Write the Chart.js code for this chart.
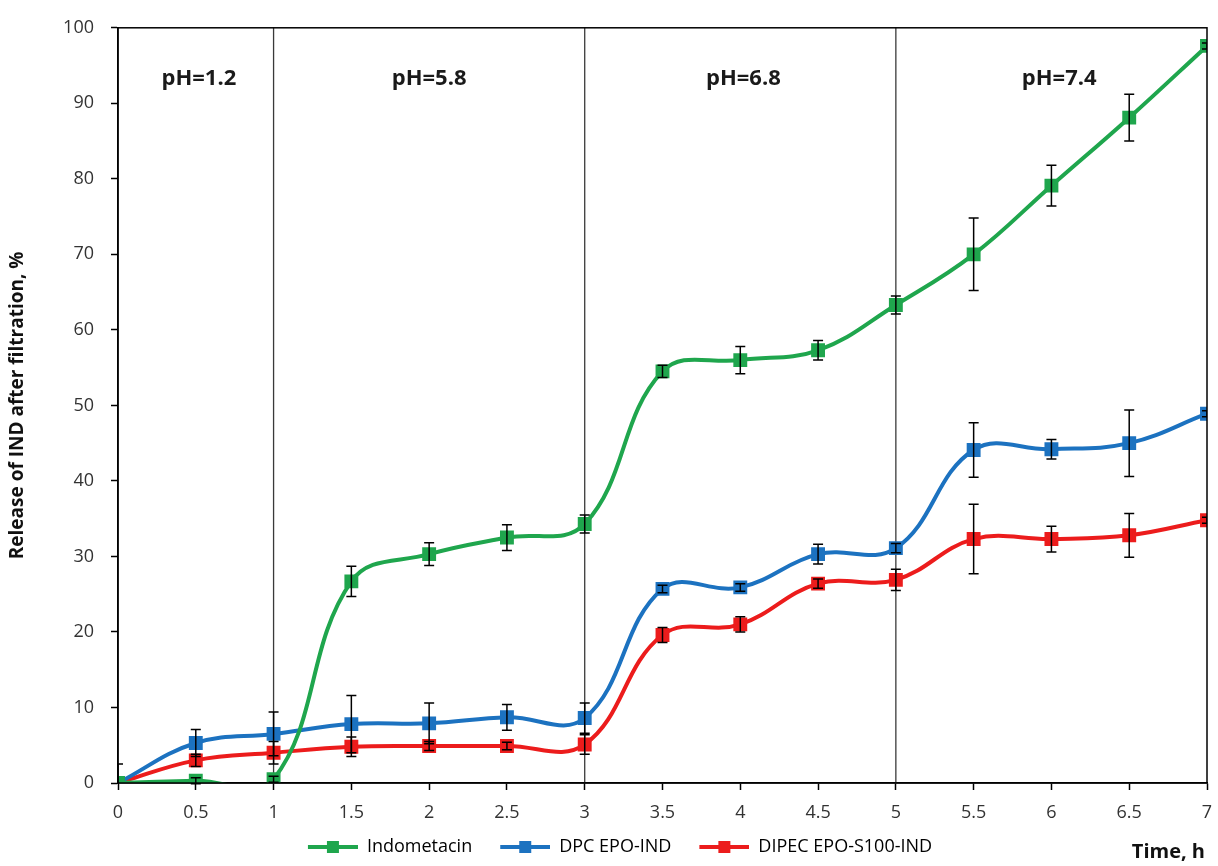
<!DOCTYPE html>
<html lang="en">
<head>
    <meta charset="UTF-8">
    <title>Release of IND after filtration</title>
    <script src="https://cdn.jsdelivr.net/npm/chart.js"></script>
    <style>
        body { margin: 0; background: #fff; }
        .wrap { width: 1218px; height: 866px; }
    </style>
</head>
<body>
<div class="wrap"><canvas id="releaseChart"></canvas></div>
<script>
    // time points, h
    const times = [0, 0.5, 1, 1.5, 2, 2.5, 3, 3.5, 4, 4.5, 5, 5.5, 6, 6.5, 7];

    // release, %
    const indometacin = [0, 0.3, 0.5, 26.7, 30.3, 32.5, 34.3, 54.5, 56.0, 57.3, 63.3, 70.0, 79.1, 88.1, 97.6];
    const indometacinErr = [2.5, 0.4, 0.4, 2.0, 1.5, 1.7, 1.2, 0.8, 1.8, 1.3, 1.2, 4.8, 2.7, 3.1, 0.4];

    const dpcEpoInd = [0, 5.3, 6.5, 7.8, 7.9, 8.7, 8.6, 25.7, 25.9, 30.3, 31.1, 44.1, 44.2, 45.0, 48.9];
    const dpcEpoIndErr = [0, 1.8, 2.9, 3.8, 2.7, 1.7, 2.0, 0.5, 0.5, 1.3, 0.6, 3.6, 1.3, 4.4, 0.4];

    const dipecInd = [0, 3.0, 4.0, 4.8, 4.9, 4.9, 5.1, 19.6, 21.0, 26.4, 26.9, 32.3, 32.3, 32.8, 34.8];
    const dipecIndErr = [0, 0.8, 1.5, 1.3, 0.6, 0.5, 1.3, 1.0, 1.0, 0.6, 1.4, 4.6, 1.7, 2.9, 0.4];

    // pH zones
    const phBoundaries = [1, 3, 5];
    const phLabels = ['pH=1.2', 'pH=5.8', 'pH=6.8', 'pH=7.4'];
    const phLabelAt = [0.52, 2.0, 4.02, 6.05];
    const phLabelLevel = 93.3;

    const GREEN = '#1fa64d';
    const BLUE = '#1c72c0';
    const RED = '#ec1c1c';
    const FONT = '"Open Sans", sans-serif';

    function toPoints(vals) {
        return times.map((t, i) => ({ x: t, y: vals[i] }));
    }

    // legend marker: line with square in the middle (blank room on the left = spacing)
    function legendMark(color) {
        const c = document.createElement('canvas');
        c.width = 76; c.height = 14;
        const g = c.getContext('2d');
        g.strokeStyle = color;
        g.lineWidth = 4;
        g.beginPath(); g.moveTo(26, 7); g.lineTo(76, 7); g.stroke();
        g.fillStyle = color;
        g.fillRect(45, 1, 12, 12);
        return c;
    }

    function makeSet(label, vals, errs, color) {
        return {
            label: label,
            data: toPoints(vals),
            errors: errs,
            borderColor: color,
            backgroundColor: color,
            borderWidth: 4,
            tension: 0.4,
            capBezierPoints: false,
            pointStyle: 'rect',
            pointRadius: 7,
            pointHoverRadius: 7,
            legendMark: legendMark(color)
        };
    }

    const extras = {
        id: 'extras',
        beforeDatasetsDraw(chart) {
            const { ctx, chartArea: a, scales: { x, y } } = chart;
            ctx.save();
            ctx.strokeStyle = '#3a3a3a';
            ctx.lineWidth = 1.3;
            phBoundaries.forEach(b => {
                const px = x.getPixelForValue(b);
                ctx.beginPath(); ctx.moveTo(px, a.top); ctx.lineTo(px, a.bottom); ctx.stroke();
            });
            ctx.fillStyle = '#1a1a1a';
            ctx.font = 'bold 22px ' + FONT;
            ctx.textAlign = 'center';
            ctx.textBaseline = 'middle';
            phLabels.forEach((t, i) => {
                ctx.fillText(t, x.getPixelForValue(phLabelAt[i]), y.getPixelForValue(phLabelLevel));
            });
            ctx.restore();
        },
        afterDatasetsDraw(chart) {
            const { ctx, chartArea: a, scales: { x, y } } = chart;
            ctx.save();
            ctx.beginPath();
            ctx.rect(a.left, a.top - 2, a.right - a.left, a.bottom - a.top + 4);
            ctx.clip();
            ctx.strokeStyle = '#000';
            ctx.lineWidth = 1.5;
            chart.data.datasets.forEach(ds => {
                ds.data.forEach((p, i) => {
                    const e = ds.errors[i];
                    if (!e) return;
                    const px = x.getPixelForValue(p.x);
                    const top = y.getPixelForValue(p.y + e);
                    const bot = y.getPixelForValue(p.y - e);
                    ctx.beginPath();
                    ctx.moveTo(px, top); ctx.lineTo(px, bot);
                    ctx.moveTo(px - 5, top); ctx.lineTo(px + 5, top);
                    ctx.moveTo(px - 5, bot); ctx.lineTo(px + 5, bot);
                    ctx.stroke();
                });
            });
            ctx.restore();
        },
        afterDraw(chart) {
            const { ctx, chartArea: a } = chart;
            ctx.save();
            ctx.strokeStyle = '#000';
            ctx.lineWidth = 1.5;
            ctx.strokeRect(a.left, a.top, a.right - a.left, a.bottom - a.top);
            ctx.fillStyle = '#111';
            ctx.font = 'bold 20px ' + FONT;
            ctx.textAlign = 'right';
            ctx.textBaseline = 'middle';
            ctx.fillText('Time, h', a.right - 2, 852);
            ctx.restore();
        }
    };

    new Chart(document.getElementById('releaseChart'), {
        type: 'line',
        data: {
            datasets: [
                makeSet('Indometacin', indometacin, indometacinErr, GREEN),
                makeSet('DPC EPO-IND', dpcEpoInd, dpcEpoIndErr, BLUE),
                makeSet('DIPEC EPO-S100-IND', dipecInd, dipecIndErr, RED)
            ]
        },
        options: {
            responsive: true,
            maintainAspectRatio: false,
            animation: false,
            layout: { padding: { left: 6, right: 10, top: 21, bottom: 0 } },
            plugins: {
                tooltip: { enabled: false },
                legend: {
                    position: 'bottom',
                    labels: {
                        usePointStyle: true,
                        pointStyleWidth: 76,
                        color: '#222',
                        font: { family: FONT, size: 18 },
                        padding: 2,
                        generateLabels(chart) {
                            return chart.data.datasets.map((ds, i) => ({
                                text: ds.label,
                                pointStyle: ds.legendMark,
                                fillStyle: ds.borderColor,
                                strokeStyle: ds.borderColor,
                                lineWidth: 0,
                                hidden: false,
                                datasetIndex: i
                            }));
                        }
                    }
                }
            },
            scales: {
                x: {
                    type: 'linear',
                    min: 0,
                    max: 7,
                    ticks: {
                        stepSize: 0.5,
                        color: '#333',
                        padding: 12,
                        font: { family: FONT, size: 18 },
                        callback: v => String(v)
                    },
                    grid: { drawOnChartArea: false, color: '#000', tickLength: 7, tickWidth: 1.5 },
                    border: { color: '#000', width: 1.5 },
                    afterFit(scale) {
                        scale.height = 53;
                        scale.paddingLeft = 0;
                        scale.paddingRight = 0;
                    }
                },
                y: {
                    min: 0,
                    max: 100,
                    ticks: {
                        stepSize: 10,
                        color: '#333',
                        padding: 17,
                        font: { family: FONT, size: 18 }
                    },
                    grid: { drawOnChartArea: false, color: '#000', tickLength: 7, tickWidth: 1.5 },
                    border: { color: '#000', width: 1.5 },
                    title: {
                        display: true,
                        text: 'Release of IND after filtration, %',
                        color: '#111',
                        font: { family: FONT, size: 19, weight: 'bold' },
                        padding: { top: 0, bottom: 4 }
                    },
                    afterFit(scale) { scale.width = 112; }
                }
            }
        },
        plugins: [extras]
    });
</script>
</body>
</html>
